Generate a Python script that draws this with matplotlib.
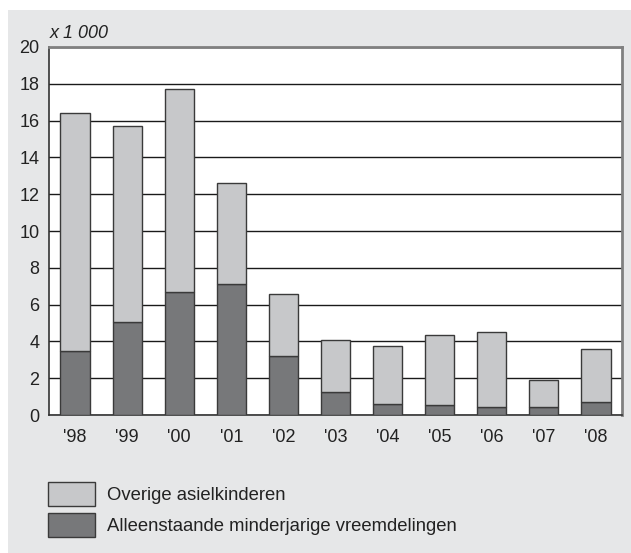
import matplotlib.pyplot as plt
from matplotlib.patches import Rectangle

jaren = ["'98", "'99", "'00", "'01", "'02", "'03", "'04", "'05", "'06", "'07", "'08"]
# x 1 000
amv = [3.48, 5.03, 6.68, 7.13, 3.22, 1.23, 0.60, 0.52, 0.42, 0.42, 0.69]
totaal = [16.43, 15.73, 17.72, 12.60, 6.59, 4.07, 3.75, 4.34, 4.50, 1.92, 3.57]
overig = [t - a for t, a in zip(totaal, amv)]

plt.rcParams['font.family'] = ['Liberation Sans', 'DejaVu Sans']

W, H = 631, 553
fig = plt.figure(figsize=(W / 100, H / 100), dpi=100, facecolor='white')
# grijze achtergrond
fig.patches.append(Rectangle((8 / W, 0), 1 - 8 / W, 1 - 10 / H, transform=fig.transFigure,
                             facecolor='#e6e7e8', edgecolor='none', zorder=-10))

ax = fig.add_axes([49 / W, (H - 415) / H, 573 / W, 368 / H])
ax.set_zorder(1)
x = range(len(jaren))
b1 = ax.bar(x, amv, width=0.56, color='#77787a', edgecolor='#3a3a3a', linewidth=1, zorder=3,
            label='Alleenstaande minderjarige vreemdelingen')
b2 = ax.bar(x, overig, bottom=amv, width=0.56, color='#c7c8ca', edgecolor='#3a3a3a', linewidth=1,
            zorder=3, label='Overige asielkinderen')

ax.set_xlim(-0.5, len(jaren) - 0.5)
ax.set_ylim(0, 20)
ax.set_yticks(range(0, 21, 2))
ax.set_xticks(list(x))
ax.set_xticklabels(jaren)
ax.tick_params(length=0, labelsize=13, colors='#222222')
ax.tick_params(axis='x', pad=10)
ax.tick_params(axis='y', pad=7)
ax.yaxis.grid(True, color='#1a1a1a', linewidth=1)
ax.set_axisbelow(True)
for s in ['left', 'bottom']:
    ax.spines[s].set_color('#333333')
    ax.spines[s].set_linewidth(1.2)
for s in ['top', 'right']:
    ax.spines[s].set_color('#808080')
    ax.spines[s].set_linewidth(2)

fig.text(50 / W, 1 - 33 / H, 'x 1 000', fontsize=13, style='italic', va='center', ha='left',
         color='#222222')

fig.legend([b2, b1], ['Overige asielkinderen', 'Alleenstaande minderjarige vreemdelingen'],
           loc='upper left', bbox_to_anchor=(48 / W, 1 - 482 / H), frameon=False,
           fontsize=13.3, handlelength=2.55, handleheight=1.6, labelspacing=0.42,
           handletextpad=0.64, borderpad=0, borderaxespad=0, labelcolor='#222222')

plt.savefig('out.png', dpi=100)
